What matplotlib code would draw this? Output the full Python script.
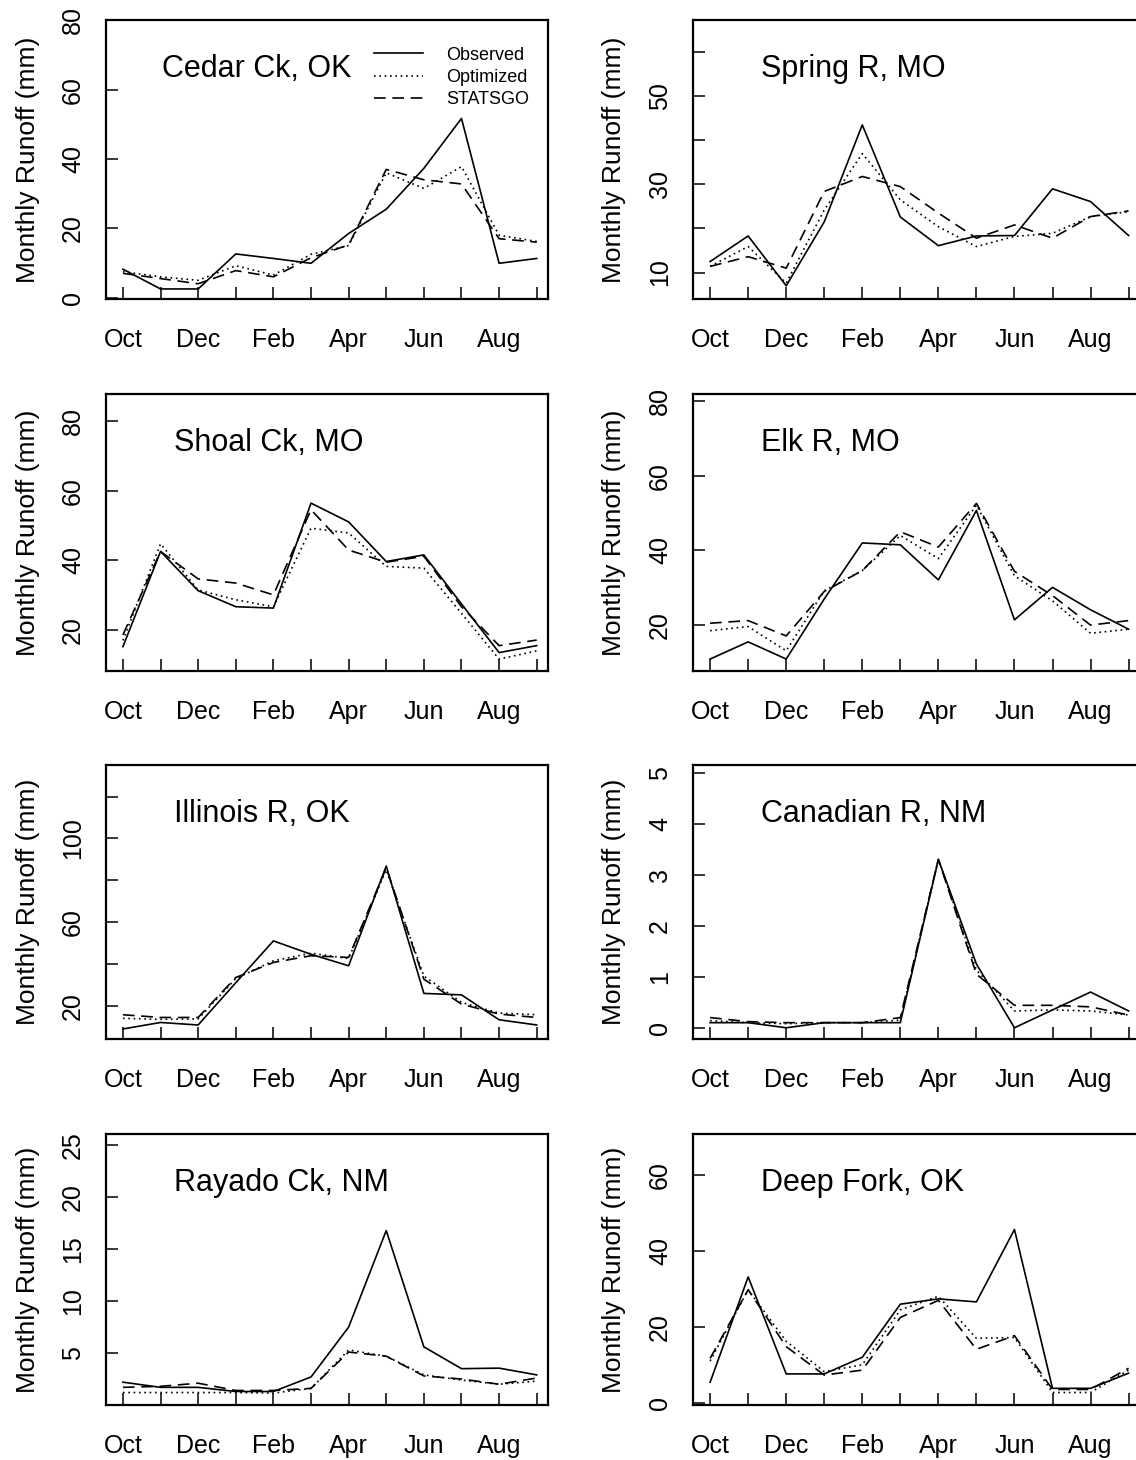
import matplotlib
matplotlib.use("Agg")
import matplotlib.pyplot as plt

plt.rcParams['font.family'] = ['Liberation Sans', 'DejaVu Sans']

months = ["Oct", "Nov", "Dec", "Jan", "Feb", "Mar", "Apr", "May", "Jun", "Jul", "Aug", "Sep"]
series_names = ["Observed", "Optimized", "STATSGO"]

# monthly runoff (mm), Oct..Sep
cedar_obs = [8.2, 2.5, 2.5, 12.6, 11.3, 9.9, 18.5, 25.5, 37.3, 51.7, 9.9, 11.3]
cedar_opt = [7.5, 6.0, 5.0, 9.2, 6.5, 12.5, 15.0, 36.0, 31.5, 37.8, 18.0, 16.2]
cedar_stat = [7.0, 5.5, 4.0, 7.8, 6.0, 11.5, 15.2, 37.0, 34.0, 32.8, 17.0, 16.0]

spring_obs = [12.5, 18.3, 7.0, 21.5, 43.5, 22.6, 16.1, 18.3, 18.4, 29.0, 26.1, 18.4]
spring_opt = [11.4, 15.9, 7.6, 24.2, 37.0, 26.5, 20.4, 15.9, 18.2, 18.9, 22.7, 23.8]
spring_stat = [11.4, 13.6, 11.0, 28.4, 31.8, 29.5, 23.5, 17.8, 20.8, 17.8, 22.7, 24.0]

shoal_obs = [15.2, 42.6, 31.3, 26.7, 26.3, 56.5, 51.1, 39.7, 41.6, 27.5, 13.5, 15.5]
shoal_opt = [17.0, 44.8, 31.5, 28.7, 26.7, 49.3, 47.9, 38.3, 37.8, 24.8, 11.6, 14.0]
shoal_stat = [18.6, 42.6, 34.7, 33.5, 30.1, 54.6, 43.0, 39.5, 41.2, 26.7, 15.5, 17.1]

elk_obs = [10.9, 15.5, 10.9, 27.0, 42.0, 41.5, 32.1, 50.7, 21.4, 30.1, 24.1, 18.9]
elk_opt = [18.5, 19.6, 13.1, 29.2, 34.6, 44.0, 37.8, 52.1, 33.2, 26.5, 17.8, 18.9]
elk_stat = [20.5, 21.2, 17.1, 29.0, 34.6, 45.0, 40.9, 52.6, 34.4, 27.9, 20.0, 21.2]

illinois_obs = [8.9, 12.0, 10.8, 31.0, 51.0, 44.6, 39.1, 86.8, 25.9, 25.2, 13.3, 10.8]
illinois_opt = [14.0, 13.5, 13.7, 33.0, 41.5, 45.1, 42.6, 85.0, 34.2, 21.6, 16.5, 15.7]
illinois_stat = [15.7, 14.4, 14.4, 33.5, 40.7, 43.9, 43.1, 86.0, 32.7, 20.8, 16.0, 14.4]

canadian_obs = [0.1, 0.1, 0.0, 0.1, 0.1, 0.1, 3.3, 1.25, 0.0, 0.35, 0.7, 0.33]
canadian_opt = [0.14, 0.1, 0.08, 0.1, 0.1, 0.15, 3.3, 1.13, 0.33, 0.35, 0.33, 0.25]
canadian_stat = [0.2, 0.12, 0.1, 0.1, 0.1, 0.2, 3.3, 1.05, 0.44, 0.44, 0.41, 0.25]

rayado_obs = [2.2, 1.7, 1.7, 1.3, 1.3, 2.7, 7.5, 16.8, 5.6, 3.5, 3.55, 2.9]
rayado_opt = [1.2, 1.2, 1.2, 1.2, 1.15, 1.6, 5.3, 4.7, 2.9, 2.4, 2.0, 2.3]
rayado_stat = [1.7, 1.8, 2.1, 1.4, 1.4, 1.6, 5.1, 4.7, 2.8, 2.5, 2.0, 2.6]

deep_obs = [5.4, 33.2, 7.6, 7.6, 12.0, 26.0, 27.4, 26.6, 45.7, 3.8, 3.8, 7.8]
deep_opt = [11.0, 29.8, 16.2, 8.2, 10.0, 24.5, 28.1, 17.0, 17.2, 2.7, 2.7, 8.6]
deep_stat = [11.7, 29.8, 14.8, 7.3, 8.6, 22.5, 27.0, 14.1, 17.7, 3.5, 3.5, 9.1]

stations = ["Cedar Ck, OK", "Spring R, MO", "Shoal Ck, MO", "Elk R, MO",
            "Illinois R, OK", "Canadian R, NM", "Rayado Ck, NM", "Deep Fork, OK"]
runoff = [
    (cedar_obs, cedar_opt, cedar_stat),
    (spring_obs, spring_opt, spring_stat),
    (shoal_obs, shoal_opt, shoal_stat),
    (elk_obs, elk_opt, elk_stat),
    (illinois_obs, illinois_opt, illinois_stat),
    (canadian_obs, canadian_opt, canadian_stat),
    (rayado_obs, rayado_opt, rayado_stat),
    (deep_obs, deep_opt, deep_stat),
]
ytick_values = [
    [0, 20, 40, 60, 80],
    [10, 20, 30, 40, 50, 60],
    [20, 40, 60, 80],
    [20, 40, 60, 80],
    [20, 40, 60, 80, 100, 120],
    [0, 1, 2, 3, 4, 5],
    [5, 10, 15, 20, 25],
    [0, 20, 40, 60],
]
ytick_labels = [
    ["0", "20", "40", "60", "80"],
    ["10", "", "30", "", "50", ""],
    ["20", "40", "60", "80"],
    ["20", "40", "60", "80"],
    ["20", "", "60", "", "100", ""],
    ["0", "1", "2", "3", "4", "5"],
    ["5", "10", "15", "20", "25"],
    ["0", "20", "40", "60"],
]
ylims = [(-0.4, 80.1), (4, 67.3), (8.2, 87.9), (7.7, 81.9),
         (4.1, 135.1), (-0.22, 5.15), (0, 26.1), (-0.6, 70.9)]

W, H = 1136, 1460
fig = plt.figure(figsize=(W / 100, H / 100), dpi=100)

col_px = [(106, 548), (693, 1140)]
row_px = [(20, 299), (394, 671), (765, 1039), (1134, 1405)]

styles = [dict(ls="-"), dict(ls=(0, (1, 2.2))), dict(ls=(0, (7, 4)))]

for i, name in enumerate(stations):
    r, c = divmod(i, 2)
    x0, x1 = col_px[c]
    top, bot = row_px[r]
    ax = fig.add_axes([x0 / W, 1 - bot / H, (x1 - x0) / W, (bot - top) / H])

    lines = []
    for vals, st in zip(runoff[i], styles):
        ln, = ax.plot(range(len(months)), vals, color="black", lw=1.2, **st)
        lines.append(ln)

    ax.set_xlim(-0.45, 11.3)
    ax.set_ylim(*ylims[i])
    ax.set_xticks(range(len(months)))
    ax.set_xticklabels([m if k % 2 == 0 else "" for k, m in enumerate(months)])
    ax.set_yticks(ytick_values[i])
    ax.set_yticklabels(ytick_labels[i], rotation=90, va="center")

    ax.tick_params(direction="in", length=8.5, width=1.1, labelsize=18)
    ax.tick_params(axis="x", pad=21)
    ax.tick_params(axis="y", pad=15)
    for sp in ax.spines.values():
        sp.set_linewidth(1.6)

    ax.set_ylabel("Monthly Runoff (mm)", fontsize=19)
    ax.yaxis.set_label_coords(-0.15, 0.5)

    dx = 56 if i == 0 else 68
    ax.annotate(name, xy=(0, 1), xycoords="axes fraction",
                xytext=(dx, -57), textcoords="offset pixels",
                fontsize=22, va="baseline", ha="left")

    if i == 0:
        ax.legend(lines, series_names, loc="upper left",
                  bbox_to_anchor=(0.606, 0.905), frameon=False, fontsize=13,
                  handlelength=2.7, handletextpad=1.3, labelspacing=0.3,
                  borderpad=0, borderaxespad=0)

fig.savefig("out.png", dpi=100, facecolor="white")
